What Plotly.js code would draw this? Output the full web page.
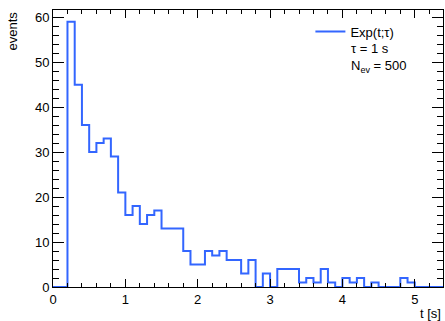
<!DOCTYPE html>
<html>
<head>
<meta charset="utf-8">
<script src="https://cdn.plot.ly/plotly-3.0.1.min.js"></script>
<style>html,body{margin:0;padding:0;background:#fff;}#chart{width:445px;height:321px;}</style>
</head>
<body>
<div id="chart"></div>
<script>
// Histogram: bin width 0.1 s, range 0 - 5.4 s
const binWidth = 0.1;
const binStart = 0.0;
const counts = [
  0, 0, 59, 45, 36, 30, 32, 33, 29, 21,
  16, 18, 14, 16, 17, 13, 13, 13, 8, 5,
  5, 8, 7, 8, 6, 6, 3, 6, 0, 3,
  0, 4, 4, 4, 1, 2, 1, 4, 1, 0,
  2, 1, 2, 0, 1, 0, 0, 0, 2, 1,
  0, 0, 0, 0
];
const seriesName = "Exp(t;\u03c4)";
const infoLines = ["\u03c4 = 1 s", "N<sub>ev</sub> = 500"];
const xTitle = "t [s]";
const yTitle = "events";

// bin edges and step values
const edges = [];
for (let i = 0; i <= counts.length; i++) edges.push(+(binStart + i * binWidth).toFixed(4));
const stepY = counts.concat([counts[counts.length - 1]]);

const font = {family: "Liberation Sans, Arial, sans-serif", size: 13, color: "#000"};

const trace = {
  type: "scatter", mode: "lines", name: seriesName,
  x: edges, y: stepY,
  line: {shape: "hv", color: "#3366ff", width: 2},
  hoverinfo: "skip"
};

const axisCommon = {
  showgrid: false, zeroline: false, showline: true, linecolor: "#000", linewidth: 1,
  mirror: "ticks", ticks: "inside", tickcolor: "#000", tickwidth: 1,
  tickfont: font
};

const layout = {
  width: 445, height: 321,
  margin: {l: 53, r: 2, t: 10, b: 34, pad: 0},
  paper_bgcolor: "#fff", plot_bgcolor: "#fff",
  font: font,
  showlegend: true,
  legend: {x: 0.66, y: 0.976, xanchor: "left", yanchor: "top", bgcolor: "rgba(0,0,0,0)",
           borderwidth: 0, font: font, itemwidth: 30},
  xaxis: Object.assign({}, axisCommon, {
    range: [0, 5.39], dtick: 1, tick0: 0, ticklen: 8,
    minor: {dtick: 0.2, ticks: "inside", ticklen: 4, tickcolor: "#000", showgrid: false}
  }),
  yaxis: Object.assign({}, axisCommon, {
    range: [0, 61.6], dtick: 10, tick0: 0, ticklen: 11,
    minor: {dtick: 2, ticks: "inside", ticklen: 6, tickcolor: "#000", showgrid: false}
  }),
  annotations: [
    {text: infoLines[0], xref: "paper", yref: "paper", x: 0.76, y: 0.862, xanchor: "left", yanchor: "middle", showarrow: false, font: font},
    {text: infoLines[1], xref: "paper", yref: "paper", x: 0.76, y: 0.795, xanchor: "left", yanchor: "middle", showarrow: false, font: font},
    {text: xTitle, xref: "paper", yref: "paper", x: 1.0, y: -0.062, xanchor: "right", yanchor: "top", showarrow: false, font: font},
    {text: yTitle, xref: "paper", yref: "paper", x: -0.105, y: 1.0, xanchor: "center", yanchor: "top", textangle: -90, showarrow: false, font: font}
  ]
};

Plotly.newPlot("chart", [trace], layout, {staticPlot: true, displayModeBar: false});
</script>
</body>
</html>
